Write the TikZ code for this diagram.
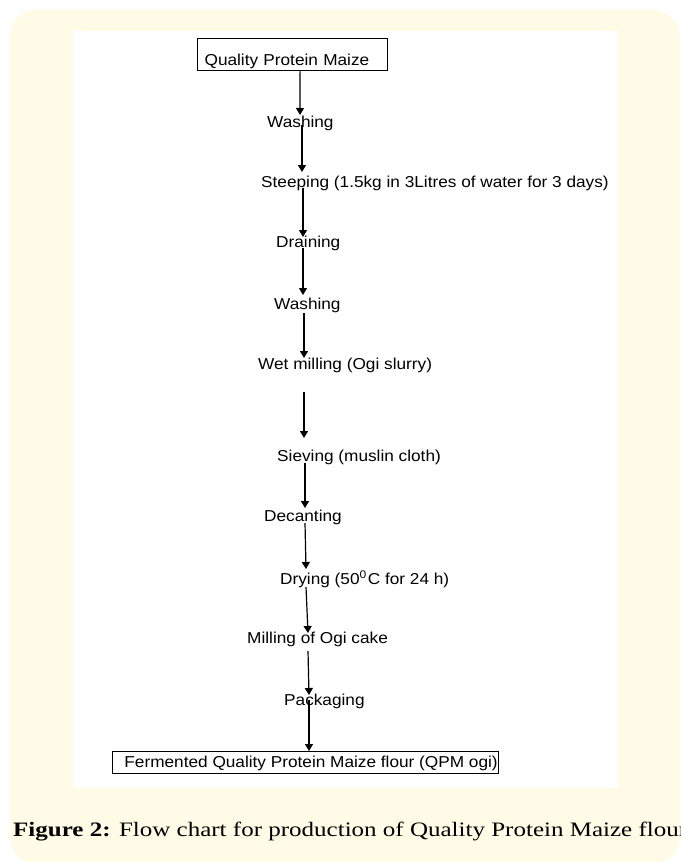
\documentclass[tikz,border=0pt]{standalone}
\usepackage{fontspec}
\usepackage{xcolor}
\usetikzlibrary{arrows.meta}
\newfontfamily\flowfont[FakeStretch=1.09]{Liberation Sans}
\newfontfamily\capfont[FakeStretch=1.22]{Liberation Serif}
\newcommand{\flowtext}{\flowfont\fontsize{15.8}{18}\selectfont}
\newcommand{\captext}{\capfont\fontsize{20.5}{24}\selectfont}
\definecolor{panelcream}{RGB}{255,251,230}

\begin{document}
\begin{tikzpicture}[x=1pt,y=-1pt,
    flow/.style={-{Triangle[length=7pt,width=8pt]}, line width=1.2pt},
    stage/.style={inner sep=0pt, anchor=base west, font=\flowtext},
    endbox/.style={draw, line width=1.2pt, inner ysep=0pt, anchor=north west, font=\flowtext}]
        \useasboundingbox (0,0) rectangle (680,862);
        \clip (0,0) rectangle (680,862);
        \fill[panelcream, rounded corners=27pt] (10,10) rectangle (680,864);
        \fill[white] (73,31) rectangle (618,788);

        % raw grain and end product
        \node[endbox, inner xsep=7pt, text width=176pt, align=left,
              text height=27pt, text depth=5pt] (qpm) at (197,38) {Quality Protein Maize};
        \node[endbox, inner xsep=0pt, minimum width=386pt,
              text height=16pt, text depth=6pt] (flour) at (112,751)
            {\hspace*{11pt}Fermented Quality Protein Maize flour (QPM ogi)};

        % processing steps
        \foreach \name/\x/\y/\txt in {
            wash1/267/127/Washing,
            steep/261/187/Steeping (1.5kg in 3Litres of water for 3 days),
            drain/276/247/Draining,
            wash2/274/309/Washing,
            wet/258/369/Wet milling (Ogi slurry),
            sieve/277/461/Sieving (muslin cloth),
            decant/264/521/Decanting,
            dry/280/584/Drying (50\textsuperscript{0}\kern1pt C for 24 h),
            mill/247/643/Milling of Ogi cake,
            pack/284/705/Packaging} {
            \node[stage] (\name) at (\x,\y) {\txt};
        }

        \draw[flow] ([xshift=7.5pt]qpm.south) -- ([xshift=33pt,yshift=12pt]wash1.base west);
        \foreach \a/\ax/\ay/\b/\bx/\by in {
            wash1/35/2/steep/41/15,
            steep/42/-1/drain/27/10,
            drain/27/-1/wash2/29/14,
            wash2/30/-4/wet/46/11,
            wet/46/-23/sieve/27/23,
            sieve/28/-2/decant/41/13,
            decant/41/-2/dry/26/15,
            dry/26/-3/mill/61/10,
            mill/61/-8/pack/25/10} {
            \draw[flow] ([xshift=\ax pt,yshift=\ay pt]\a.base west)
                -- ([xshift=\bx pt,yshift=\by pt]\b.base west);
        }
        \draw[flow] ([xshift=25pt,yshift=5pt]pack.base west) -- ([xshift=197pt]flour.north west);

        \node[anchor=base west, inner sep=0pt, font=\captext] (caption) at (13,836)
            {\textbf{Figure 2:} Flow chart for production of Quality Protein Maize flour};
    \end{tikzpicture}
\end{document}
